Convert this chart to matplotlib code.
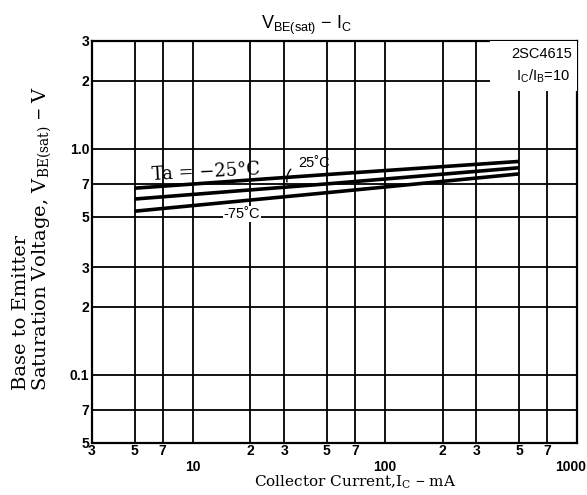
import matplotlib
matplotlib.use("Agg")
import matplotlib.pyplot as plt
import matplotlib.transforms as mtransforms
from matplotlib.patches import Rectangle

# collector current (mA) and VBE(sat) (V)
ic_ma = [5, 50, 500]
vbe_m25 = [0.67, 0.77, 0.88]
vbe_25 = [0.60, 0.70, 0.825]
vbe_75 = [0.53, 0.64, 0.775]

x_major = [10, 100, 1000]
x_major_lbl = ["10", "100", "1000"]
x_minor = [3, 5, 7, 20, 30, 50, 70, 200, 300, 500, 700]
x_minor_lbl = ["3", "5", "7", "2", "3", "5", "7", "2", "3", "5", "7"]
y_major = [0.1, 1.0]
y_major_lbl = ["0.1", "1.0"]
y_minor = [0.05, 0.07, 0.2, 0.3, 0.5, 0.7, 2, 3]
y_minor_lbl = ["5", "7", "2", "3", "5", "7", "2", "3"]

SERIF = "DejaVu Serif"
SANS = "Liberation Sans"
plt.rcParams["mathtext.fontset"] = "custom"
plt.rcParams["mathtext.rm"] = SANS

fig = plt.figure(figsize=(5.87, 4.95), dpi=100)
ax = fig.add_axes([92 / 587, 52 / 495, 485 / 587, 402 / 495])
ax.set_xscale("log"); ax.set_yscale("log")
ax.set_xlim(3, 1000); ax.set_ylim(0.05, 3)

ax.set_xticks(x_major); ax.set_xticklabels(x_major_lbl)
ax.set_xticks(x_minor, minor=True); ax.set_xticklabels(x_minor_lbl, minor=True)
ax.set_yticks(y_major); ax.set_yticklabels(y_major_lbl)
ax.set_yticks(y_minor, minor=True); ax.set_yticklabels(y_minor_lbl, minor=True)
ax.tick_params(which="both", length=0, labelsize=10)
ax.tick_params(axis="x", which="major", pad=12)
ax.tick_params(axis="x", which="minor", pad=1)
ax.tick_params(axis="y", which="both", pad=2)
for lab in ax.get_xticklabels(which="both") + ax.get_yticklabels(which="both"):
    lab.set_fontfamily(SANS); lab.set_fontweight("bold")
# the "1000" label sits a little left so it stays inside the figure
last = ax.get_xticklabels()[-1]
last.set_transform(last.get_transform() + mtransforms.ScaledTranslation(-6 / 100, 0, fig.dpi_scale_trans))
ax.grid(True, which="both", color="black", lw=1.3)
for s in ax.spines.values():
    s.set_linewidth(1.6)

for v in (vbe_m25, vbe_25, vbe_75):
    ax.plot(ic_ma, v, color="black", lw=2.6, solid_capstyle="butt", zorder=3)

# part-number box covers the grid in the top-right corner
ax.add_patch(Rectangle((0.82, 0.875), 0.18, 0.125, transform=ax.transAxes,
                       facecolor="white", edgecolor="none", zorder=4))
ax.text(0.99, 0.985, "2SC4615", transform=ax.transAxes, ha="right", va="top",
        fontsize=10.5, family=SANS, zorder=5)
ax.text(0.985, 0.912, r"I$_\mathregular{C}$/I$_\mathregular{B}$=10", transform=ax.transAxes,
        ha="right", va="center", fontsize=10.5, family=SANS, zorder=5)

ax.text(11.7, 0.79, "Ta = \u221225\u00b0C", fontsize=13, family=SERIF, rotation=3,
        ha="center", va="center")
ax.text(43, 0.868, "25\u02daC", fontsize=10.5, family=SANS, ha="center", va="center")
ax.annotate("", xy=(31.2, 0.694), xytext=(33.2, 0.83),
            arrowprops=dict(arrowstyle="-", lw=1.0, color="black",
                            connectionstyle="arc3,rad=0.3"))
ax.text(18, 0.515, "\u201075\u02daC", fontsize=10.5, family=SANS, ha="center", va="center",
        bbox=dict(facecolor="white", edgecolor="none", pad=0.5))

fig.text(306 / 587, 1 - 25 / 495, r"V$_\mathregular{BE(sat)}$ $-$ I$_\mathregular{C}$",
         ha="center", va="center", fontsize=13, family=SANS)
fig.text(355 / 587, 1 - 482 / 495, r"Collector Current,I$_\mathregular{C}$ $-$ mA",
         ha="center", va="center", fontsize=11, family=SERIF)
fig.text(21 / 587, 1 - 312 / 495, "Base to Emitter", rotation=90,
         ha="center", va="center", fontsize=14, family=SERIF)
fig.text(42 / 587, 1 - 238 / 495, r"Saturation Voltage, V$_\mathregular{BE(sat)}$ $-$ V",
         rotation=90, ha="center", va="center", fontsize=14, family=SERIF)

fig.savefig("out.png", dpi=100)
